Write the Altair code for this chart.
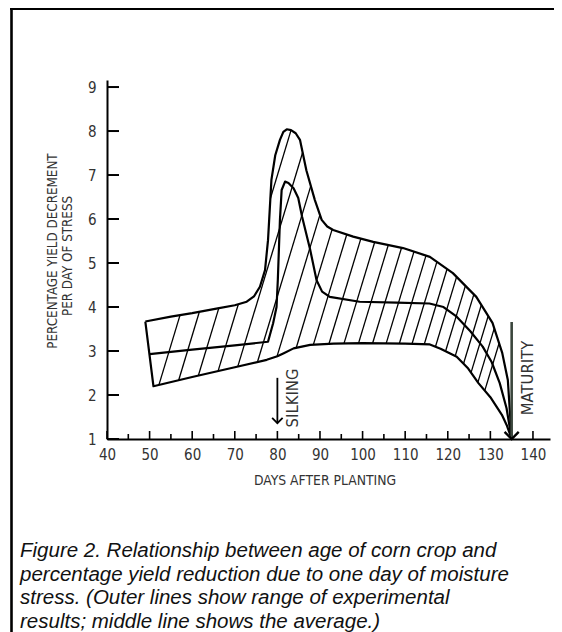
import altair as alt
import pandas as pd
import numpy as np

# ---------------- data ----------------
upper_day = [49.0, 55, 60, 66, 70, 72.8, 74.5, 75.9, 77.1, 77.8, 78.6, 79.5, 80.6, 81.4, 82.2, 83.2, 84.3, 85.3,
             86.8, 88.8, 90.4, 91.7, 93.1, 97.8, 102.5, 109.5, 115.8, 121.2, 126.7, 130.5, 132.8, 134.1, 135.0]
upper_val = [3.67, 3.78, 3.86, 3.97, 4.04, 4.12, 4.24, 4.46, 4.84, 5.52, 6.89, 7.45, 7.8, 7.98, 8.04, 8.02, 7.95, 7.8,
             7.11, 6.43, 5.98, 5.83, 5.75, 5.6, 5.48, 5.34, 5.14, 4.77, 4.23, 3.64, 2.95, 2.34, 1.0]

middle_day = [50.0, 60, 70, 77.8, 79.0, 79.8, 80.1, 80.6, 81.0, 81.8, 82.6, 83.8, 84.9, 85.8, 87.7, 89.2, 90.5, 92.3,
              99.3, 108, 115.7, 119, 122.1, 125.3, 128.2, 130.3, 132.2, 133.8, 135.0]
middle_val = [2.93, 3.03, 3.13, 3.21, 3.63, 4.0, 4.61, 5.98, 6.66, 6.85, 6.82, 6.7, 6.48, 6.05, 5.3, 4.61, 4.35, 4.23,
              4.12, 4.1, 4.08, 4.0, 3.78, 3.45, 3.1, 2.75, 2.27, 1.7, 1.0]

lower_day = [50.9, 60, 70, 77.5, 80, 81.5, 83.8, 87.7, 93.2, 100, 110, 115.8, 118.3, 122.1, 124.8, 127.2, 130.0,
             132.7, 133.9, 135.0]
lower_val = [2.2, 2.41, 2.63, 2.8, 2.88, 2.95, 3.06, 3.14, 3.17, 3.18, 3.17, 3.15, 3.05, 2.87, 2.6, 2.27, 1.95,
             1.55, 1.3, 1.0]

# hatch lines: day where each hatch line crosses the 3.0 level
hatch_at3 = [54.6, 58.9, 63.2, 67.5, 71.8, 76.1, 80.3, 84.2, 88.0, 91.6, 95.1, 98.5, 101.8, 105.0, 108.1,
             111.1, 114.0, 116.8, 119.5, 122.1, 124.6, 127.0, 129.3, 131.5]
hatch_slope_px = 3.3  # rise per pixel run

x_labels = [40, 50, 60, 70, 80, 90, 100, 110, 120, 130, 140]
x_minor = [45, 55, 65, 75, 85, 95, 105, 115, 125, 135]
y_labels = [1, 2, 3, 4, 5, 6, 7, 8, 9]

silking_day, silking_top, silking_bottom = 80, 2.39, 1.36
maturity_day, maturity_top, maturity_bottom = 135, 3.66, 1.0

caption = ["Figure 2. Relationship between age of corn crop and",
           "percentage yield reduction due to one day of moisture",
           "stress. (Outer lines show range of experimental",
           "results; middle line shows the average.)"]

# ---------------- geometry ----------------
W, H = 443, 359
XD = [40, 144]
YD = [1, 9.16]
KX = W / (XD[1] - XD[0])
KY = H / (YD[1] - YD[0])

# closed band polygon (upper left->right, lower right->left)
poly = list(zip(upper_day, upper_val)) + list(zip(lower_day[::-1], lower_val[::-1]))[1:]


def hatch_segments(x3):
    u0, v0 = x3 * KX, 3.0 * KY
    du, dv = 1.0, hatch_slope_px
    ts = []
    n = len(poly)
    for i in range(n):
        ax, ay = poly[i][0] * KX, poly[i][1] * KY
        bx, by = poly[(i + 1) % n][0] * KX, poly[(i + 1) % n][1] * KY
        ex, ey = bx - ax, by - ay
        den = du * ey - dv * ex
        if abs(den) < 1e-12:
            continue
        wx, wy = ax - u0, ay - v0
        t = (wx * ey - wy * ex) / den
        s = (wx * dv - wy * du) / den
        if 0 <= s < 1:
            ts.append(t)
    ts.sort()
    segs = []
    for k in range(0, len(ts) - 1, 2):
        t1, t2 = ts[k], ts[k + 1]
        segs.append({"x": (u0 + t1 * du) / KX, "y": (v0 + t1 * dv) / KY,
                     "x2": (u0 + t2 * du) / KX, "y2": (v0 + t2 * dv) / KY})
    return segs


hatch_rows = []
for h in hatch_at3:
    hatch_rows += hatch_segments(h)
hatch_df = pd.DataFrame(hatch_rows)

outline_pts = list(zip(upper_day, upper_val)) + list(zip(lower_day[::-1], lower_val[::-1]))[1:] + [(upper_day[0], upper_val[0])]
outline_df = pd.DataFrame({"x": [p[0] for p in outline_pts], "y": [p[1] for p in outline_pts],
                           "o": list(range(len(outline_pts)))})
middle_df = pd.DataFrame({"x": middle_day, "y": middle_val, "o": list(range(len(middle_day)))})

LABEL_FONT = "DejaVu Sans Condensed, Liberation Sans Narrow, sans-serif"
LABEL_COLOR = "#333333"


def X(field="x"):
    return alt.X(f"{field}:Q", scale=alt.Scale(domain=XD, nice=False, zero=False),
                 axis=alt.Axis(values=x_labels, ticks=False, grid=False, title=None, labelFont=LABEL_FONT,
                               labelFontSize=15, labelColor=LABEL_COLOR, labelPadding=8, domainColor="black",
                               domainWidth=2, labelFlush=False))


def Y(field="y"):
    return alt.Y(f"{field}:Q", scale=alt.Scale(domain=YD, nice=False, zero=False),
                 axis=alt.Axis(values=y_labels, ticks=False, grid=False, title=None, labelFont=LABEL_FONT,
                               labelFontSize=15, labelColor=LABEL_COLOR, labelPadding=11, domainColor="black",
                               domainWidth=2, labelFlush=False, labelBaseline="middle"))


hatch = alt.Chart(hatch_df).mark_rule(color="black", strokeWidth=1.3).encode(
    x=X(), y=Y(), x2="x2:Q", y2="y2:Q")

outline = alt.Chart(outline_df).mark_line(color="black", strokeWidth=2.2, strokeJoin="round").encode(
    x=X(), y=Y(), order="o:Q")
middle = alt.Chart(middle_df).mark_line(color="black", strokeWidth=2.2, strokeJoin="round").encode(
    x=X(), y=Y(), order="o:Q")

ytick_df = pd.DataFrame({"y": y_labels})
yticks = alt.Chart(ytick_df).mark_rule(color="black", strokeWidth=2).encode(
    y=Y(), x=alt.value(0), x2=alt.value(12))

xmaj_df = pd.DataFrame({"x": x_labels})
xmaj = alt.Chart(xmaj_df).mark_rule(color="black", strokeWidth=1.6).encode(
    x=X(), y=alt.value(H), y2=alt.value(H - 8))
xmin_df = pd.DataFrame({"x": x_minor})
xmin = alt.Chart(xmin_df).mark_rule(color="black", strokeWidth=1.6).encode(
    x=X(), y=alt.value(H), y2=alt.value(H - 5))

silk_df = pd.DataFrame({"x": [silking_day], "y": [silking_top], "y2": [silking_bottom]})
silk_rule = alt.Chart(silk_df).mark_rule(color="black", strokeWidth=1.8).encode(x=X(), y=Y(), y2="y2:Q")
silk_head = alt.Chart(silk_df).mark_point(shape="M-1,-1L0,0L1,-1", filled=False, color="black",
                                          strokeWidth=1.8, size=110, opacity=1).encode(x=X(), y=Y("y2"))

mat_df = pd.DataFrame({"x": [maturity_day], "y": [maturity_top], "y2": [maturity_bottom]})
mat_rule = alt.Chart(mat_df).mark_rule(color="#3b463d", strokeWidth=2.6).encode(x=X(), y=Y(), y2="y2:Q")
mat_head = alt.Chart(mat_df).mark_point(shape="M-1,-1L0,0L1,-1", filled=False, color="black",
                                        strokeWidth=2.4, size=200, opacity=1).encode(x=X(), y=Y("y2"))


def txt(text, x, y, size, angle=0, font=LABEL_FONT, style="normal", align="center", baseline="middle",
        color=LABEL_COLOR, line_height=None):
    kw = dict(font=font, fontSize=size, fontStyle=style, align=align, baseline=baseline, color=color)
    if angle:
        kw["angle"] = angle
    if line_height:
        kw["lineHeight"] = line_height
    return alt.Chart(pd.DataFrame({"k": [0]})).mark_text(**kw).encode(
        x=alt.value(x), y=alt.value(y), text=alt.value(text))


# plot origin at page (107, 80)
ox, oy = 107, 80
t_silk = txt("SILKING", 293 - ox, 398 - oy, 16.5, angle=270)
t_mat = txt("MATURITY", 528 - ox, 378 - oy, 16.5, angle=270)
t_y1 = txt("PERCENTAGE YIELD DECREMENT", 53 - ox, 251 - oy, 13.3, angle=270)
t_y2 = txt("PER DAY OF STRESS", 68 - ox, 256 - oy, 13.3, angle=270)
t_x = txt("DAYS AFTER PLANTING", 325 - ox, 481 - oy, 13.8)
t_cap = txt(caption, 20 - ox, 557 - oy, 20.5, font="Liberation Sans, Arial, sans-serif", style="italic",
            align="left", baseline="alphabetic", color="#111111", line_height=23.5)

# frame (left and top edges of the picture border)
frame_l = alt.Chart(pd.DataFrame({"k": [0]})).mark_rule(color="black", strokeWidth=2.6).encode(
    x=alt.value(11.5 - ox), y=alt.value(8 - oy), y2=alt.value(640 - oy))
frame_t = alt.Chart(pd.DataFrame({"k": [0]})).mark_rule(color="black", strokeWidth=2.6).encode(
    x=alt.value(10 - ox), x2=alt.value(570 - ox), y=alt.value(8.6 - oy))

TOTAL_W, TOTAL_H = 546, 624
chart = alt.layer(
    hatch, outline, middle, yticks, xmaj, xmin, silk_rule, silk_head, mat_rule, mat_head,
    t_silk, t_mat, t_y1, t_y2, t_x, t_cap, frame_l, frame_t
).properties(
    width=W, height=H, autosize="none",
    padding={"left": ox - 8, "top": oy - 8, "right": TOTAL_W - (ox - 8) - W,
             "bottom": TOTAL_H - (oy - 8) - H},
    background="white"
).configure_view(stroke=None)

chart.save("out.html", embed_options={"renderer": "svg", "actions": False})
